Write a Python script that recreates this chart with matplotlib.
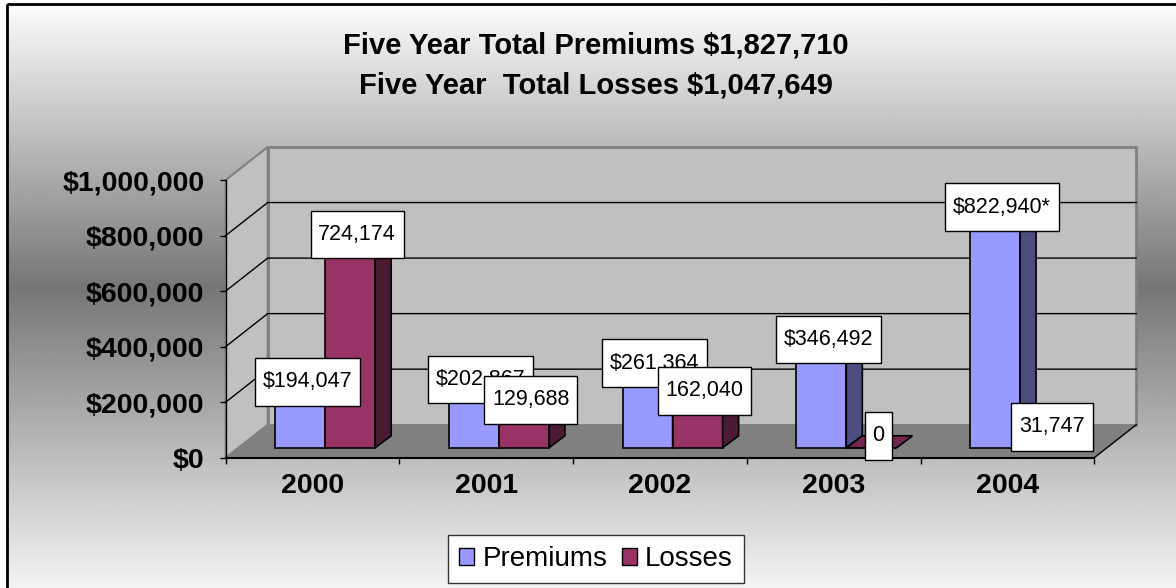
import numpy as np
import matplotlib.pyplot as plt
from matplotlib.patches import Polygon, Rectangle
from matplotlib.path import Path

plt.rcParams["font.family"] = ["Liberation Sans", "DejaVu Sans"]

# data
years = ["2000", "2001", "2002", "2003", "2004"]
premiums = [194047, 202867, 261364, 346492, 822940]
losses = [724174, 129688, 162040, 0, 31747]
premium_notes = ["", "", "", "", "*"]
series_names = ["Premiums", "Losses"]
title_lines = ["Five Year Total Premiums $1,827,710",
               "Five Year  Total Losses $1,047,649"]
y_ticks = [0, 200000, 400000, 600000, 800000, 1000000]

prem_colors = ("#9999ff", "#4d4d80", "#7a7acc")   # front, side, top
loss_colors = ("#993366", "#4d1a33", "#732650")

W, H = 1176, 588
fig = plt.figure(figsize=(W / 100, H / 100), dpi=100)
fig.patch.set_facecolor("white")

# gradient chart-area background
bg = fig.add_axes([0, 0, 1, 1], zorder=-10)
rows = np.arange(H)
shade = np.interp(rows, [4, 285, H], [250, 118, 244])
bg.imshow(np.repeat(shade[:, None], 2, axis=1), cmap="gray", vmin=0, vmax=255,
          extent=(7, W, H, 4), aspect="auto", interpolation="bilinear")
bg.add_patch(Rectangle((7, 4), W, H, fill=False, edgecolor="black", lw=2))
bg.set_xlim(0, W)
bg.set_ylim(H, 0)
bg.axis("off")


def px_box(left, right, top, bottom):
    return [left / W, 1 - bottom / H, (right - left) / W, (bottom - top) / H]


ax = fig.add_axes(px_box(225.7, 1094.3, 180, 457.7))
ax.set_xlim(-0.5, 4.5)
ax.set_ylim(0, 1e6)
ax.patch.set_visible(False)


def px_to_data(dx, dy):
    o = ax.transData.transform((0, 0))
    return ax.transData.inverted().transform(o + np.array([dx, dy]))


ddx, ddy = px_to_data(42, 33)      # floor depth
bx, by = px_to_data(12.6, 9.9)     # where the bars stand
bdx, bdy = px_to_data(16, 12)      # bar depth

# walls and floor
x0, x1 = -0.5, 4.5
top = y_ticks[-1]
ax.add_patch(Rectangle((x0 + ddx, ddy), x1 - x0, top, fc="#c0c0c0", ec="#808080",
                       lw=2, zorder=0.5, clip_on=False))
ax.add_patch(Polygon([(x0, 0), (x0 + ddx, ddy), (x0 + ddx, top + ddy), (x0, top)],
                     fc="#c0c0c0", ec="#808080", lw=1.5, zorder=0.5, clip_on=False))
ax.add_patch(Polygon([(x0, 0), (x1, 0), (x1 + ddx, ddy), (x0 + ddx, ddy)],
                     fc="#808080", ec="none", zorder=0.6, clip_on=False))
ax.plot([x1, x1 + ddx], [0, ddy], color="black", lw=1, zorder=0.7, clip_on=False)
for v in y_ticks[1:-1]:
    ax.plot([x0, x0 + ddx, x1 + ddx], [v, v + ddy, v + ddy], color="black", lw=1,
            zorder=0.7, clip_on=False)

for s in ["top", "right"]:
    ax.spines[s].set_visible(False)
ax.spines["left"].set_linewidth(1)
ax.spines["bottom"].set_linewidth(1.5)

ax.set_yticks(y_ticks)
ax.set_yticklabels([f"${v:,}" for v in y_ticks], fontweight="bold")
ax.tick_params(axis="y", direction="out", length=4.3, width=1, pad=11, labelsize=20.5)
ax.set_xticks(np.arange(-0.5, 5, 1))
ax.set_xticklabels([])
ax.tick_params(axis="x", which="major", direction="out", length=4.3, width=1)
ax.set_xticks(range(len(years)), minor=True)
ax.set_xticklabels(years, minor=True, fontweight="bold")
ax.tick_params(axis="x", which="minor", length=0, pad=11, labelsize=20.5)

# 3-D columns
w = 0.288
xs = np.arange(len(years))


def label_box(x0, y0, width, height, mutation_size):
    px, py = 0.36 * mutation_size, 0.62 * mutation_size
    return Path([(x0 - px, y0 - py), (x0 + width + px, y0 - py),
                 (x0 + width + px, y0 + height + py), (x0 - px, y0 + height + py),
                 (x0 - px, y0 - py)], closed=True)


def columns(lefts, values, colors, z, labels):
    tops = [max(v, by) for v in values]
    ax.bar(lefts, [t - by for t in tops], width=w, bottom=by, align="edge",
           color=colors[0], edgecolor="black", lw=1.2, zorder=z)
    for l, t, v, txt in zip(lefts, tops, values, labels):
        r = l + w
        ax.add_patch(Polygon([(r, by), (r + bdx, by + bdy), (r + bdx, t + bdy), (r, t)],
                             fc=colors[1], ec="black", lw=1.2, zorder=z))
        ax.add_patch(Polygon([(l, t), (l + bdx, t + bdy), (r + bdx, t + bdy), (r, t)],
                             fc=colors[2], ec="black", lw=1.2, zorder=z))
        ax.annotate(txt, xy=(l + w / 2, v), xytext=(7, 22), textcoords="offset pixels",
                    ha="center", va="center", fontsize=15.5, zorder=z + 3,
                    annotation_clip=False,
                    bbox=dict(boxstyle=label_box, fc="white", ec="black", lw=1))


columns(xs + bx - w, premiums, prem_colors, 3,
        [f"${v:,}{n}" for v, n in zip(premiums, premium_notes)])
columns(xs + bx, losses, loss_colors, 3.3, [f"{v:,}" for v in losses])

for i, line in enumerate(title_lines):
    fig.text(596 / W, 1 - (45 + 40 * i) / H, line, ha="center", va="center",
             fontsize=21, fontweight="bold")

handles = [Rectangle((0, 0), 1, 1, fc=c[0], ec="black", lw=1)
           for c in (prem_colors, loss_colors)]
leg = fig.legend(handles, series_names, loc="center", bbox_to_anchor=(596 / W, 1 - 559 / H),
                 ncol=2, frameon=True, fancybox=False, edgecolor="#333333",
                 facecolor="white", framealpha=1, fontsize=20, handlelength=0.55,
                 handleheight=0.55, handletextpad=0.3, columnspacing=0.5,
                 borderpad=0.4, borderaxespad=0)
leg.get_frame().set_linewidth(1)

fig.savefig("out.png", dpi=100)
